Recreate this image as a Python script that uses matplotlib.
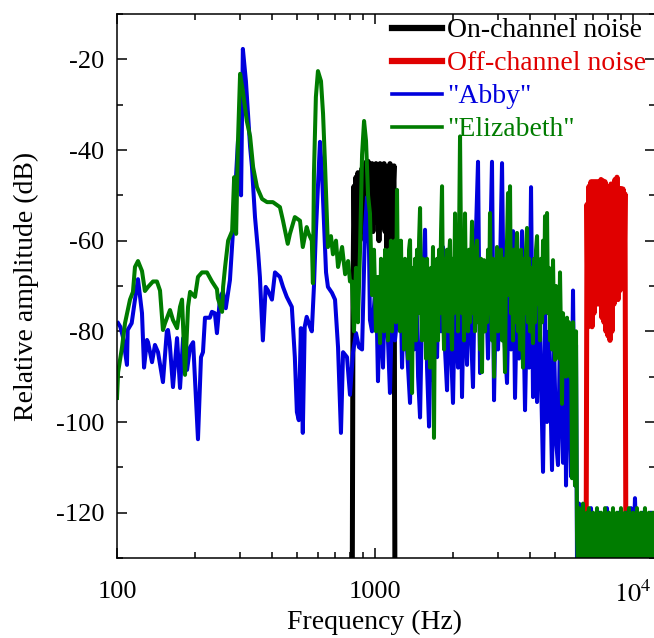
import numpy as np
import matplotlib
matplotlib.use("Agg")
from matplotlib import pyplot as plt
from matplotlib.ticker import MultipleLocator, NullFormatter

plt.rcParams["font.family"] = ["Liberation Serif", "DejaVu Serif"]
plt.rcParams["mathtext.fontset"] = "stix"
plt.rcParams["axes.unicode_minus"] = False

# "Abby" spectrum (Hz, dB)
abby_freq = [
    101, 103, 105.5, 109.3, 110, 114, 117.4, 120.6, 125, 127.3, 130.7, 131.9, 136.7, 140.3, 144.2,
    150.7, 156, 157.6, 160, 164.8, 170.9, 175.5, 180.4, 186.9, 192, 197.3, 206, 211.6, 215.4, 219.3,
    229, 233.3, 239.5, 244, 251, 257.5, 264, 274,
    281.6, 294.4, 302.6, 307.5, 316, 328,
    333.5, 342.7, 352.5, 358, 367.6, 377, 384, 398.6, 409.6, 428, 440, 455, 476, 489, 498, 506.6,
    516, 525, 534, 543.5, 560, 569, 580, 590, 601, 612, 623, 629, 646, 657, 681, 700, 719, 738,
    752, 779, 800, 822, 844, 867, 891, 915, 931, 948, 956,
    974, 991, 1009, 1027, 1046, 1074, 1094, 1123, 1143, 1164, 1195, 1217, 1250, 1273, 1296, 1319,
    1343, 1367, 1392, 1417, 1443, 1469, 1495, 1522, 1563, 1591, 1620, 1649, 1678, 1709, 1740, 1771,
    1803, 1835, 1868, 1902, 1936, 1971, 2006, 2043, 2098, 2136, 2174, 2213, 2274, 2315, 2356, 2398,
    2442, 2508, 2553, 2599, 2646, 2694, 2742, 2791, 2841, 2893, 2945, 2998, 3052, 3107, 3163, 3249,
    3307, 3367, 3428, 3489, 3552, 3617, 3714, 3815, 3884, 3954, 4025, 4097, 4171, 4247, 4323, 4400,
    4480, 4560, 4643, 4726, 4854, 4942, 5031, 5121, 5213, 5355, 5451, 5500, 5599, 5700, 5751, 5855,
    5960, 6014,
    6068, 6177, 6288, 6401, 6516, 6633, 6753, 6874, 6998, 7124, 7252, 7383, 7516, 7651, 7789, 7929,
    8072, 8217, 8365, 8516, 8669, 8825, 8984, 9146, 9311, 9478, 9648, 9823, 9999, 10179, 10362,
    10549, 10739, 10932, 11129, 11330, 11534, 11742, 11954,
]
abby_db = [
    -78.2, -79, -81.3, -87.4, -79.7, -78.2, -73, -68.5, -76, -88, -81.9, -82.4, -86.8, -83, -84.6,
    -91.2, -80, -79.7, -82.4, -92.3, -81.5, -92.5, -81.5, -88.5, -83.5, -82.4, -103.8, -85.7, -84.6, -77,
    -77, -75.7, -76, -80.4, -72.4, -71.3, -74.9, -68.7,
    -57.9, -38, -50, -17.7, -24.8, -39.3,
    -43.7, -54.8, -62.7, -68, -82, -70.2, -70.9, -73, -67, -68, -70.2, -72.4, -74.6, -85.7, -97.8, -99.6,
    -79.3, -102.4, -79, -76.8, -79, -80, -70, -58, -48, -38.2, -45, -51, -67, -70.2, -71.5, -73, -83.5, -102.4,
    -84.6, -85.7, -94, -84.6, -80.4, -83.5, -84, -57, -50.4, -62, -77.5,
    -80, -74.6, -68, -91, -72, -88, -70, -82, -93.6, -75, -82, -77.5, -62.8, -88, -70, -80,
    -88, -95.8, -72, -84, -68, -90, -99, -75, -57.6, -88, -101, -78, -90.7, -72, -85.7, -66,
    -80, -61.4, -84, -93, -70, -84, -95.8, -72, -88, -54, -94.5, -70, -87.4, -66, -80, -92.3,
    -65, -42.6, -89.2, -68, -80, -70, -86, -64, -42.6, -95.2, -70, -84, -66, -42.9, -80, -91.4,
    -68, -84, -57.9, -94.7, -72, -86, -57.9, -97.4, -74, -88, -48.2, -94.5, -75, -95.6, -72, -90,
    -111, -76, -100, -80, -110.6, -82, -104, -109.5, -80, -109, -78, -114, -80, -100, -112, -71,
    -114, -83,
    -132, -118, -131, -120, -132, -121, -131, -119, -132, -122, -131, -120, -133, -121, -131, -119,
    -132, -121, -131, -122, -132, -120, -131, -121, -133, -120, -131, -119, -132, -116.8, -131,
    -121, -132, -120, -131, -122, -132, -120, -131,
]

# "Elizabeth" spectrum
eliz_freq = [
    100, 101, 104.6, 107.4, 112.3, 115.3, 117.4, 120.6, 125, 128.3, 131.9, 137.9, 142.8, 146.8, 150.7,
    153.5, 160.5, 164.8, 170.9, 175.5, 178.7, 183.5, 188.5, 192, 200.6, 206, 213.5, 223.2, 233.3, 244,
    246, 255.5, 257.8, 262.4, 269.6, 279.4, 284.5, 289.5, 294.4, 300, 307.5, 318.5, 328,
    337, 348.8, 365, 381.6, 402, 428, 440, 459, 468, 489, 512, 525, 543.5, 553.5, 569, 574.6, 580,
    590, 601, 617.5, 629, 640, 651.5, 657, 675, 687, 706, 719, 745.5, 766, 786.6, 800,
    814, 829, 844, 859, 875, 891, 907, 923, 940, 956, 974, 991, 1009, 1027,
    1046, 1055, 1064, 1074, 1084, 1094, 1103, 1113, 1123, 1133,
    1143, 1153, 1164, 1174, 1185, 1195, 1206, 1217, 1228, 1239,
    1250, 1261, 1273, 1284, 1296, 1307, 1319, 1331, 1343, 1355,
    1367, 1380, 1392, 1404, 1417, 1430, 1443, 1455, 1469, 1482,
    1495, 1508, 1522, 1535, 1549, 1563, 1577, 1591, 1605, 1620,
    1634, 1649, 1663, 1678, 1693, 1709, 1724, 1740, 1755, 1771,
    1787, 1803, 1819, 1835, 1852, 1868, 1885, 1902, 1919, 1936,
    1953, 1971, 1989, 2006, 2024, 2043, 2061, 2080, 2098, 2117,
    2136, 2155, 2174, 2194, 2213, 2233, 2253, 2274, 2294, 2315,
    2335, 2356, 2377, 2398, 2420, 2442, 2463, 2486, 2508, 2530,
    2553, 2576, 2599, 2622, 2646, 2670, 2694, 2718, 2742, 2767,
    2791, 2816, 2841, 2867, 2893, 2918, 2945, 2971, 2998, 3025,
    3052, 3079, 3107, 3135, 3163, 3191, 3220, 3249, 3278, 3307,
    3337, 3367, 3397, 3428, 3458, 3489, 3521, 3552, 3584, 3617,
    3648, 3681, 3714, 3747, 3781, 3815, 3849, 3884, 3919, 3954,
    3989, 4025, 4061, 4097, 4134, 4171, 4209, 4247, 4285, 4323,
    4361, 4400, 4440, 4480, 4520, 4560, 4601, 4643, 4684, 4726,
    4768, 4811, 4854, 4898, 4942, 4986, 5031, 5076, 5121, 5167,
    5213, 5260, 5307, 5355, 5403, 5451, 5500, 5549, 5599, 5649,
    5700, 5751, 5803, 5855, 5907, 5960, 6014, 6068,
    6122, 6177, 6232, 6288, 6344, 6401, 6458, 6516, 6575, 6633, 6693, 6753, 6813, 6874, 6936, 6998,
    7061, 7124, 7188, 7252, 7317, 7383, 7449, 7516, 7583, 7651, 7720, 7789, 7859, 7929, 8000, 8072,
    8144, 8217, 8291, 8365, 8440, 8516, 8592, 8669, 8747, 8825, 8904, 8984, 9064, 9146, 9228, 9311,
    9394, 9478, 9563, 9648, 9736, 9823, 9911, 9999, 10089, 10179, 10270, 10362, 10455, 10549, 10644,
    10739, 10835, 10932, 11030, 11129, 11229, 11330, 11432, 11534, 11638, 11742, 11847, 11954, 12061,
]
eliz_db = [
    -94.7, -89, -83.5, -78.2, -73, -71.3, -65.8, -64.5, -66.7, -71.1, -70.2, -69, -69, -71, -79.7,
    -78.2, -75.3, -77.5, -79.3, -74.6, -73, -89.6, -74.6, -71.3, -72.4, -68, -67, -67, -69, -70.7,
    -72.7, -75.7, -70.2, -65.8, -60, -57.9, -46, -58.5, -38, -23.2, -27, -33.6, -37,
    -43.8, -48.2, -50.8, -51.5, -51.5, -52.6, -55.6, -60.7, -58.5, -54.8, -55.6, -61.4, -57, -58.5, -60, -69.4, -45,
    -28.3, -22.6, -24.8, -32, -43, -55.6, -61.4, -59, -63, -60, -65.8, -61.4, -67.4, -64.5, -69,
    -69, -80, -66, -78, -62, -41, -33.6, -38, -50, -54, -72, -62, -80, -68,
    -82.6, -64, -78, -66, -80, -62, -76, -64, -82, -62,
    -76, -60, -80, -62, -74, -60, -78, -48.8, -72, -64,
    -80, -60, -78, -66, -84, -64, -76, -68, -86, -62,
    -59.9, -80, -93.6, -66, -78, -64, -82, -62, -76, -60,
    -52.8, -74, -82, -64, -78, -66, -86, -64, -80, -68,
    -88, -66, -80, -61.4, -103.5, -68, -80, -64, -82, -62,
    -76, -58, -48, -74, -84, -64, -78, -62, -80, -64,
    -59.9, -78, -84, -64, -76, -54, -74, -64, -80, -60,
    -37, -62, -76, -64, -82, -54, -74, -64, -80, -62,
    -78, -66, -55.8, -76, -64, -80, -62, -60, -78, -66,
    -84, -64, -89, -66, -64.3, -80, -66, -78, -62, -76,
    -53.9, -74, -82, -64, -90, -66, -78, -61.4, -80, -64,
    -76, -62, -82, -64, -78, -89, -66, -60, -49.5, -72,
    -48, -76, -64, -82, -62, -78, -64, -58.3, -80, -66,
    -84, -62, -78, -88, -64, -76, -62, -57.2, -78, -64,
    -80, -66, -76, -82.6, -64, -78, -62, -59, -74, -66,
    -82, -64, -78, -60, -76, -54.6, -72, -53.9, -76, -66,
    -82, -68, -84, -64.3, -80, -86.3, -70, -84, -72, -86,
    -67, -82, -96, -76, -88, -78, -90, -77, -86, -78,
    -90, -79, -112.4, -78, -92, -114, -80, -125,
    -132, -119, -131, -121, -133, -118, -131, -122, -132, -120, -131, -119, -133, -121, -131, -120,
    -132, -123, -131, -119, -133, -121, -131, -120, -132, -122, -131, -119, -133, -121, -131, -120,
    -132, -123, -131, -119, -133, -121, -131, -120, -132, -122, -131, -119, -133, -121, -131, -120,
    -132, -122, -131, -119, -133, -121, -131, -120, -132, -122, -131, -119, -133, -121, -131,
    -120, -132, -122, -131, -119, -133, -121, -131, -120, -132, -122, -131, -120, -132,
]

# on-channel noise band
on_freq = [
    816, 822, 829, 837, 844, 852, 859, 867, 875, 883, 891, 898, 907, 915, 923, 931, 940, 948, 956,
    965, 974, 982, 991, 1000, 1009, 1018, 1027, 1036, 1046, 1055, 1064, 1074, 1084, 1094, 1103,
    1113, 1123, 1133, 1143, 1153, 1164, 1174, 1185, 1195,
]
on_db = [
    -140, -70, -48, -66, -46, -60, -45, -62, -46, -56, -44, -58, -45, -60, -42.7, -52, -42.5, -56, -44,
    -53, -43, -58, -45, -54, -43, -56, -44, -60, -43, -57, -45, -52, -43, -58, -44,
    -64, -45, -60, -43, -54, -44, -50, -43.5, -140,
]

# off-channel noise band
off_freq = [
    6575, 6633, 6693, 6753, 6813, 6874, 6936, 6998, 7061, 7124, 7188, 7252, 7317, 7383, 7449, 7516,
    7583, 7651, 7720, 7789, 7859, 7929, 8000, 8072, 8144, 8217, 8291, 8365, 8440, 8516, 8592, 8669,
    8747, 8825, 8904, 8984, 9064, 9146, 9228, 9311, 9394,
]
off_db = [
    -140, -52, -79, -48, -78, -47, -79, -47, -76, -47, -71, -47, -74, -47, -72, -46.5,
    -77, -46.8, -78, -47, -80, -48.6, -81, -48.6, -82, -47.5, -80, -47.5, -74, -46.5, -72, -46,
    -73, -48.5, -71, -48.5, -70, -48.6, -70, -49.7, -140,
]

fig = plt.figure(figsize=(6.54, 6.38), dpi=100)
ax = fig.add_axes([117 / 654, 1 - 558 / 638, 538 / 654, 544 / 638])

ax.plot(on_freq, on_db, color="#000000", lw=3.6, label="On-channel noise")
ax.plot(off_freq, off_db, color="#e00000", lw=3.6, label="Off-channel noise")
ax.plot(abby_freq, abby_db, color="#0000dd", lw=2.9, label='"Abby"')
ax.plot(eliz_freq, eliz_db, color="#007c00", lw=2.9, label='"Elizabeth"')

ax.set_xscale("log")
ax.set_xlim(100, 12170)
ax.set_ylim(-130, -10)

ax.set_xticks([100, 1000, 10000])
ax.set_xticklabels(["100", "1000", r"$10^{4}$"])
ax.xaxis.set_minor_formatter(NullFormatter())
ax.yaxis.set_minor_locator(MultipleLocator(10))
ax.set_yticks([-120, -100, -80, -60, -40, -20])

ax.tick_params(which="both", direction="in", top=True, right=True, width=1.1, labelsize=19)
ax.tick_params(which="major", length=7, pad=16.5)
ax.tick_params(which="minor", length=4.5)
ax.tick_params(axis="y", which="major", pad=9)
for s in ax.spines.values():
    s.set_linewidth(1.1)

ax.set_xlabel("Frequency (Hz)", fontsize=20)
ax.xaxis.set_label_coords(0.478, -0.096)
ax.set_ylabel("Relative amplitude (dB)", fontsize=20)
ax.yaxis.set_label_coords(-0.145, 0.5)

leg = ax.legend(loc="upper left", bbox_to_anchor=(392 / 654, 1 - 18 / 638),
                bbox_transform=fig.transFigure, frameon=False, fontsize=20,
                handlelength=1.8, handletextpad=0.18, labelspacing=0.27,
                borderpad=0, borderaxespad=0)
for text, line in zip(leg.get_texts(), leg.get_lines()):
    text.set_color(line.get_color())
leg.get_lines()[0].set_linewidth(4.5)
leg.get_lines()[1].set_linewidth(4.5)
leg.get_lines()[2].set_linewidth(2.6)
leg.get_lines()[3].set_linewidth(2.6)

fig.savefig("out.png", dpi=100)
